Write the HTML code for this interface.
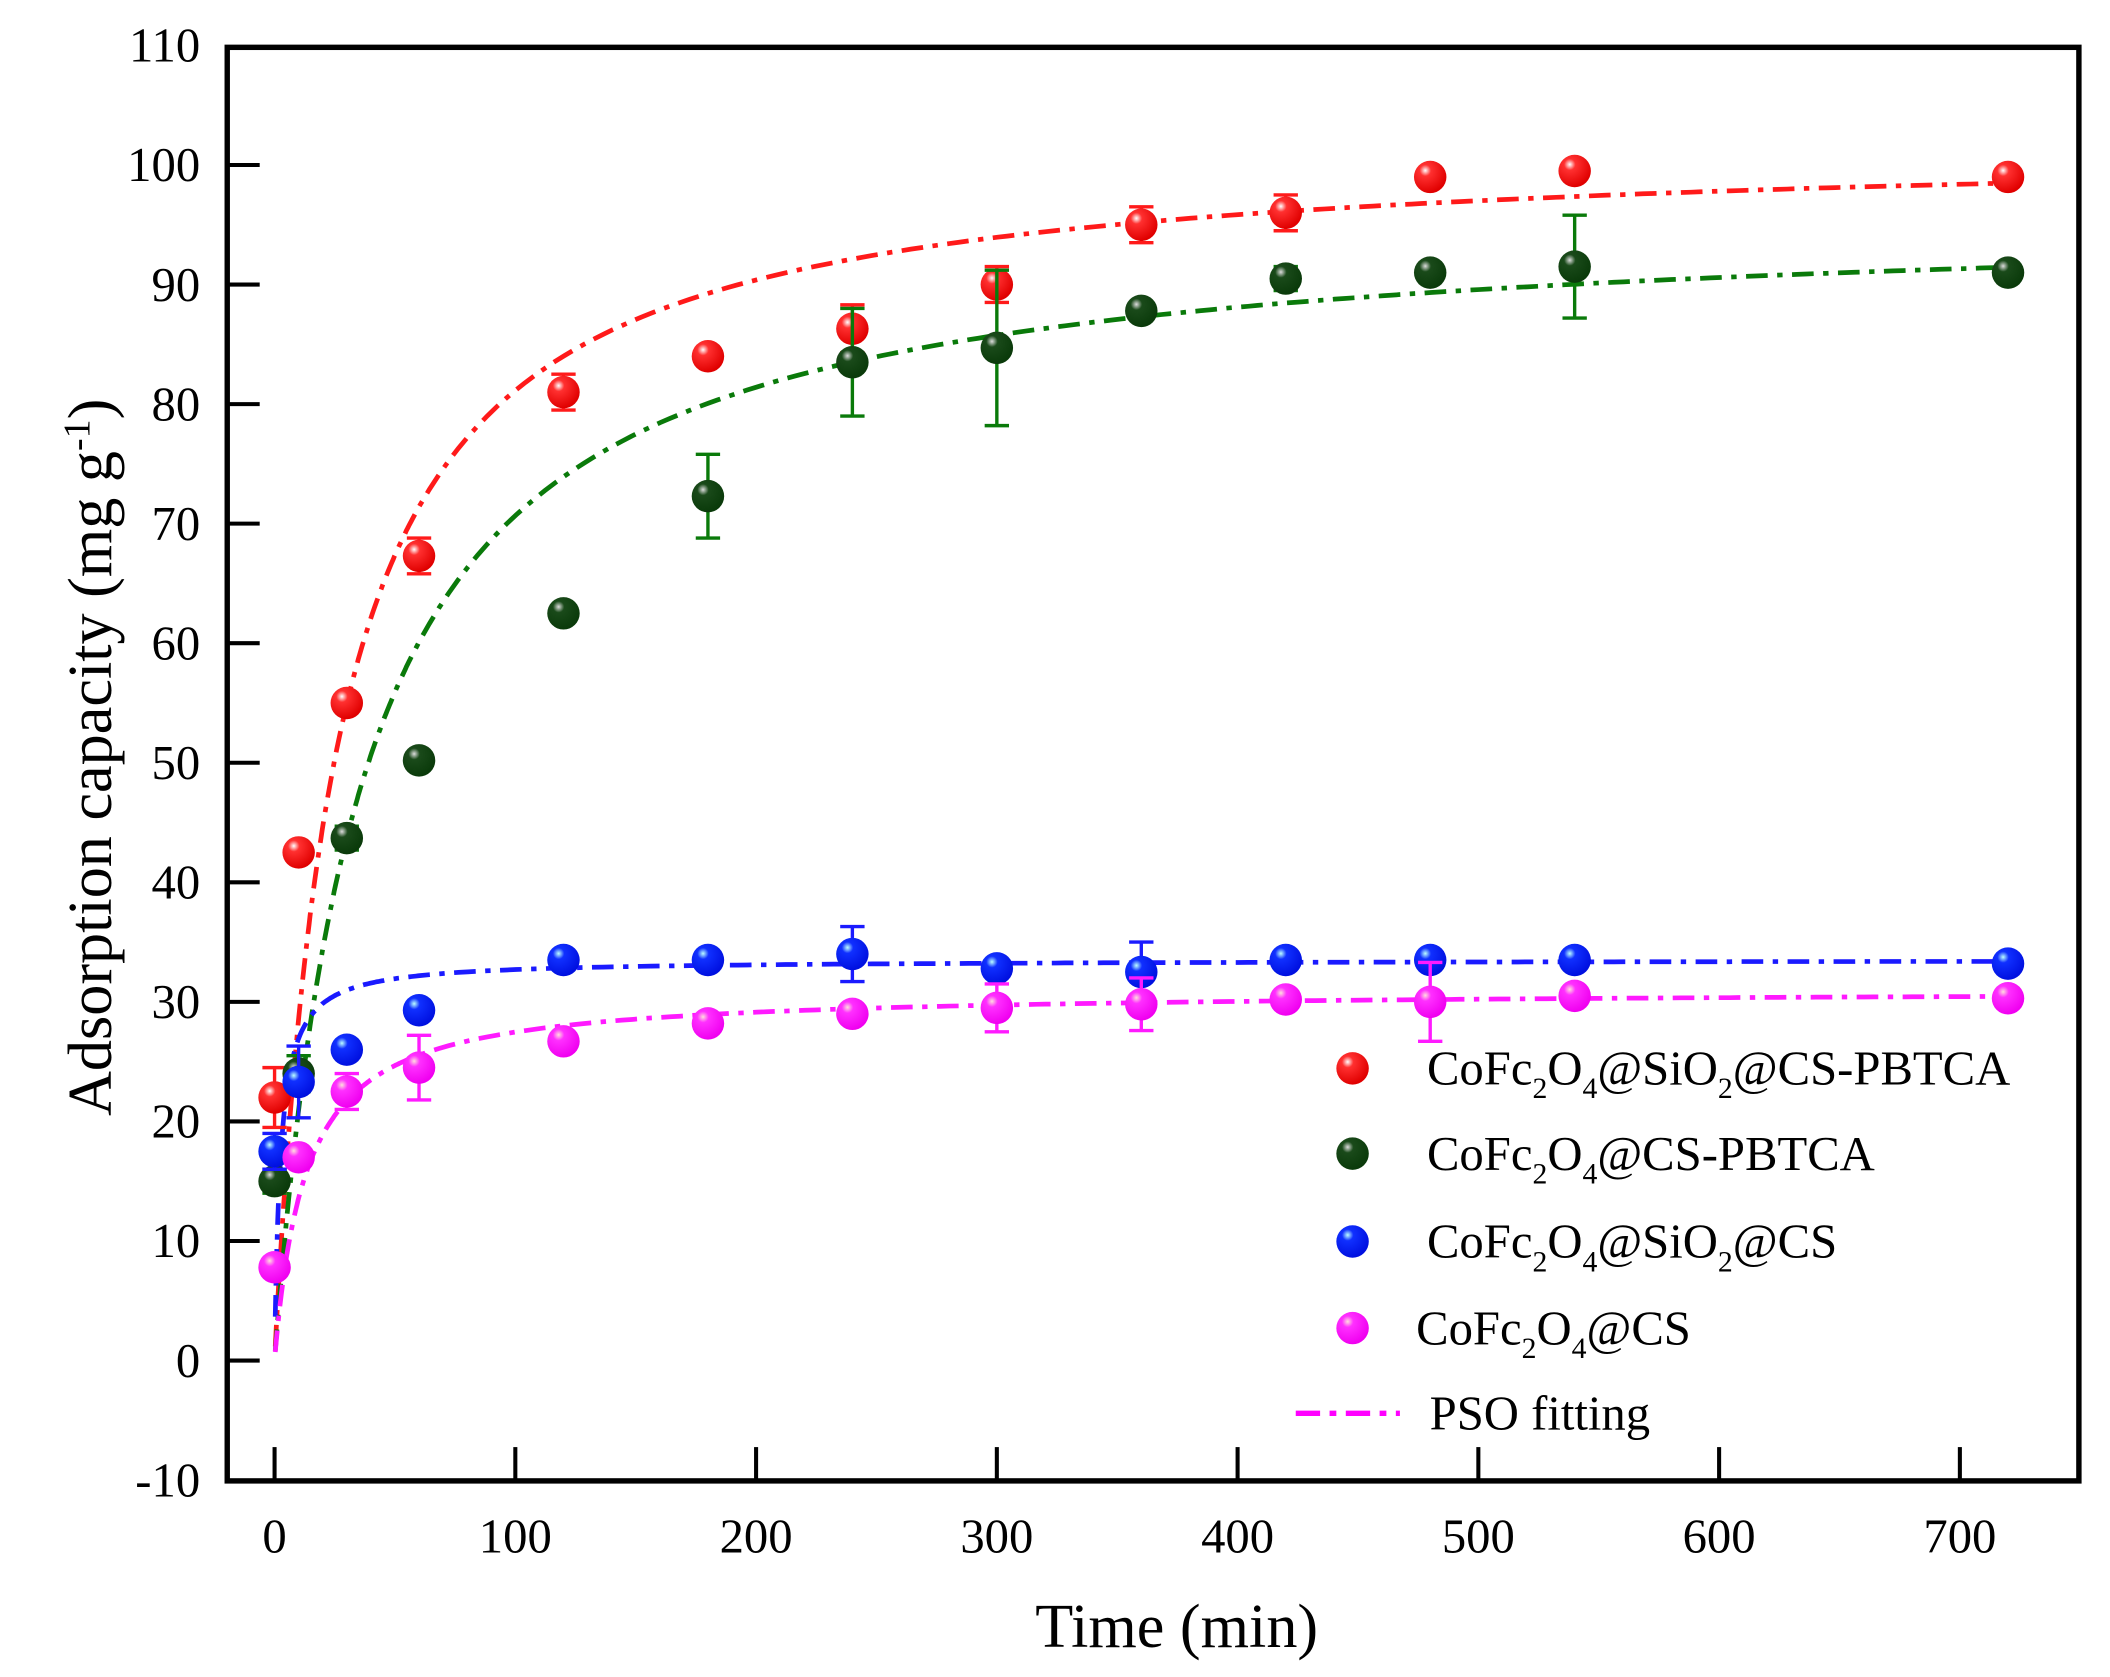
<!DOCTYPE html>
<html><head><meta charset="utf-8"><style>
html,body{margin:0;padding:0;background:#fff;}
svg{display:block;}
text{font-family:"Liberation Serif",serif;fill:#000;}
</style></head><body>
<svg id="s" width="2110" height="1677" viewBox="0 0 1560 1240" preserveAspectRatio="none" xmlns="http://www.w3.org/2000/svg">
<defs>
<radialGradient id="gr" cx="35%" cy="30%" r="70%"><stop offset="0" stop-color="#fff"/><stop offset="0.25" stop-color="#ff3030"/><stop offset="1" stop-color="#e00000"/></radialGradient>
<radialGradient id="gg" cx="35%" cy="30%" r="70%"><stop offset="0" stop-color="#ddd"/><stop offset="0.25" stop-color="#1a4a1a"/><stop offset="1" stop-color="#0a3a0a"/></radialGradient>
<radialGradient id="gb" cx="35%" cy="30%" r="70%"><stop offset="0" stop-color="#bff"/><stop offset="0.25" stop-color="#1030ff"/><stop offset="1" stop-color="#0010e0"/></radialGradient>
<radialGradient id="gm" cx="35%" cy="30%" r="70%"><stop offset="0" stop-color="#fdd"/><stop offset="0.25" stop-color="#ff30ff"/><stop offset="1" stop-color="#f000f0"/></radialGradient>
</defs>
<g id="curves"></g>
<g id="pts"></g>
<rect x="168" y="35" width="1369" height="1060" fill="none" stroke="#000" stroke-width="4"/>
<g id="ticks" stroke="#000" stroke-width="3"></g>
<g id="labels" font-size="36"></g>
<text x="870" y="1218" font-size="46" text-anchor="middle">Time (min)</text>
<text transform="translate(82,560) rotate(-90)" font-size="46" text-anchor="middle">Adsorption capacity (mg g<tspan dy="-16" font-size="28">-1</tspan><tspan dy="16">)</tspan></text>
<g font-size="36">
<circle cx="1000" cy="790" r="12" fill="url(#gr)"/>
<text x="1055" y="802">CoFc<tspan dy="10" font-size="22">2</tspan><tspan dy="-10">O</tspan><tspan dy="10" font-size="22">4</tspan><tspan dy="-10">@SiO</tspan><tspan dy="10" font-size="22">2</tspan><tspan dy="-10">@CS-PBTCA</tspan></text>
<circle cx="1000" cy="853" r="12" fill="url(#gg)"/>
<text x="1055" y="865">CoFc<tspan dy="10" font-size="22">2</tspan><tspan dy="-10">O</tspan><tspan dy="10" font-size="22">4</tspan><tspan dy="-10">@CS-PBTCA</tspan></text>
<circle cx="1000" cy="918" r="12" fill="url(#gb)"/>
<text x="1055" y="930">CoFc<tspan dy="10" font-size="22">2</tspan><tspan dy="-10">O</tspan><tspan dy="10" font-size="22">4</tspan><tspan dy="-10">@SiO</tspan><tspan dy="10" font-size="22">2</tspan><tspan dy="-10">@CS</tspan></text>
<circle cx="1000" cy="982" r="12" fill="url(#gm)"/>
<text x="1047" y="994">CoFc<tspan dy="10" font-size="22">2</tspan><tspan dy="-10">O</tspan><tspan dy="10" font-size="22">4</tspan><tspan dy="-10">@CS</tspan></text>
<line x1="958" y1="1045" x2="1035" y2="1045" stroke="#f0f" stroke-width="4" stroke-dasharray="18,7,5,7"/>
<text x="1057" y="1057">PSO fitting</text>
</g>
</svg>
<script>
var NS="http://www.w3.org/2000/svg";
function X(t){return 203+t*1.78;}
function Y(v){return 1006-v*8.84;}
function el(p,n,a){var e=document.createElementNS(NS,n);for(var k in a)e.setAttribute(k,a[k]);document.getElementById(p).appendChild(e);return e;}
// ticks
for(var t=0;t<=700;t+=100){el('ticks','line',{x1:X(t),y1:1095,x2:X(t),y2:1070});var tx=el('labels','text',{x:X(t),y:1148,'text-anchor':'middle'});tx.textContent=t;}
for(var v=-10;v<=110;v+=10){if(v>-10&&v<110)el('ticks','line',{x1:168,y1:Y(v),x2:192,y2:Y(v)});var ty=el('labels','text',{x:148,y:Y(v)+12,'text-anchor':'end'});ty.textContent=v;}
var T=[0,10,30,60,120,180,240,300,360,420,480,540,720];
var S=[
{c:'#ff1a1a',g:'gr',qe:102,k:0.0389/102,d:[22,42.5,55,67.3,81,84,86.3,90,95,96,99,99.5,99],e:[2.5,0,0,1.5,1.5,0,2,1.5,1.5,1.5,0,0,0]},
{c:'#0a7a0a',g:'gg',qe:96,k:0.0279/96,d:[15,24,43.7,50.2,62.5,72.3,83.5,84.7,87.8,90.5,91,91.5,91],e:[1,1.5,1,0,0,3.5,4.5,6.5,0,1,0,4.3,0]},
{c:'#1a1aff',g:'gb',qe:33.5,k:0.41/33.5,d:[17.5,23.3,26,29.3,33.5,33.5,34,32.8,32.5,33.5,33.5,33.5,33.2],e:[1.5,3,0,0,0,0,2.3,0,2.5,0,0,0,0]},
{c:'#ff1aff',g:'gm',qe:31,k:0.078/31,d:[7.8,17,22.5,24.5,26.7,28.2,29,29.5,29.8,30.2,30,30.5,30.3],e:[0,0,1.5,2.7,0,0,0,2,2.2,0,3.3,0,0]}];
S.forEach(function(s){var p=[];for(var t=0.3;t<=720;t+= (t<60?0.5:4)){var x=s.qe*s.qe*s.k*t;var q=x/(1+s.qe*s.k*t);p.push(X(t).toFixed(1)+','+Y(q).toFixed(1));}
el('curves','polyline',{points:p.join(' '),fill:'none',stroke:s.c,'stroke-width':3.5,'stroke-dasharray':'16,7,4,7'});});
S.forEach(function(s){T.forEach(function(t,i){var x=X(t),y=Y(s.d[i]),e=s.e[i];if(e>0){var a=Y(s.d[i]+e),b=Y(s.d[i]-e);el('pts','line',{x1:x,y1:a,x2:x,y2:b,stroke:s.c,'stroke-width':2.5});el('pts','line',{x1:x-9,y1:a,x2:x+9,y2:a,stroke:s.c,'stroke-width':2.5});el('pts','line',{x1:x-9,y1:b,x2:x+9,y2:b,stroke:s.c,'stroke-width':2.5});}
el('pts','circle',{cx:x,cy:y,r:12,fill:'url(#'+s.g+')'});});});
</script>
</body></html>
